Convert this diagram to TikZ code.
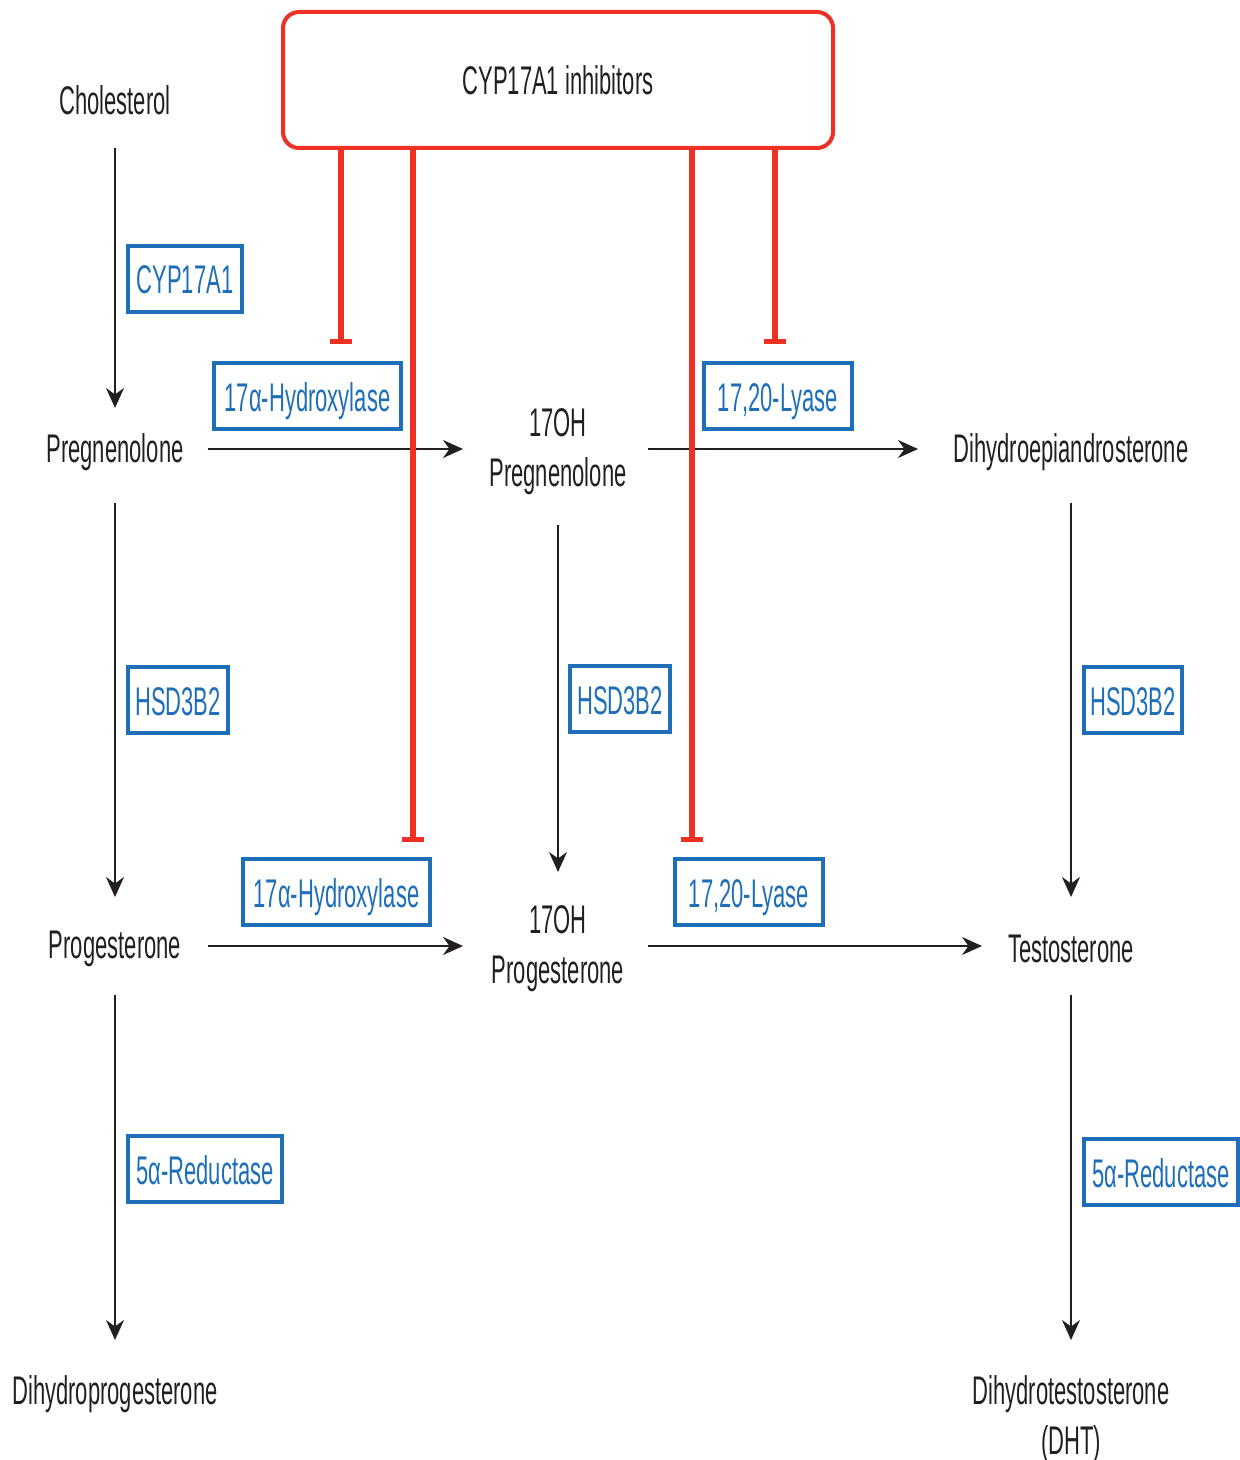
\documentclass[tikz,border=0pt]{standalone}
\usepackage{fontspec}
\setmainfont[FakeStretch=0.55]{Liberation Sans}
\usetikzlibrary{arrows.meta}
\definecolor{txt}{HTML}{231F20}
\definecolor{enzblue}{HTML}{1F6FB8}
\definecolor{inhred}{HTML}{EE3124}
\tikzset{
  metab/.style={text=txt, font=\fontsize{20}{25}\selectfont, align=center, inner sep=0pt, yshift=-1.5pt},
  enz/.style={draw=enzblue, line width=2pt, text=enzblue, font=\fontsize{20}{24}\selectfont, inner sep=0pt, minimum height=33pt, text depth=0pt, text height=15pt},
  flow/.style={draw=txt, line width=0.9pt, -{Stealth[length=10pt,width=9pt]}},
  inhib/.style={draw=inhred, line width=2.6pt, -{Bar[width=11pt,line width=2.6pt]}},
}
\begin{document}
\begin{tikzpicture}[x=0.5pt,y=-0.5pt]
\useasboundingbox (0,0) rectangle (1239,1460);
% metabolites
\node[metab] (chol) at (115,97) {Cholesterol};
\node[metab] (preg) at (115,449) {Pregnenolone};
\node[metab] (ohpreg) at (558,449) {17OH\\Pregnenolone};
\node[metab] (dhea) at (1071,449) {Dihydroepiandrosterone};
\node[metab] (prog) at (115,946) {Progesterone};
\node[metab] (ohprog) at (558,946) {17OH\\Progesterone};
\node[metab] (test) at (1071,946) {Testosterone};
\node[metab] (dhp) at (115,1391) {Dihydroprogesterone};
\node[metab] (dht) at (1071,1416) {Dihydrotestosterone\\(DHT)};
% anchors for arrows
\coordinate (cholS) at (115,148);
\coordinate (pregN) at (115,408);
\coordinate (pregE) at (208,449);
\coordinate (ohpregW) at (463,449);
\coordinate (ohpregE) at (648,449);
\coordinate (dheaW) at (918,449);
\coordinate (pregS) at (115,503);
\coordinate (progN) at (115,897);
\coordinate (ohpregS) at (558,525);
\coordinate (ohprogN) at (558,872);
\coordinate (dheaS) at (1071,503);
\coordinate (testN) at (1071,897);
\coordinate (progE) at (208,946);
\coordinate (ohprogW) at (463,946);
\coordinate (ohprogE) at (648,946);
\coordinate (testW) at (982,946);
\coordinate (progS) at (115,995);
\coordinate (dhpN) at (115,1340);
\coordinate (testS) at (1071,995);
\coordinate (dhtN) at (1071,1340);
% enzymes
\node[enz, minimum width=57pt] (cyp) at (185,279) {CYP17A1};
\node[enz, minimum width=93.5pt] (hyd1) at (307.5,396) {17α-Hydroxylase};
\node[enz, minimum width=74pt] (lya1) at (778,396) {17,20-Lyase};
\node[enz, minimum width=50pt] (hsd1) at (178,700) {HSD3B2};
\node[enz, minimum width=50pt] (hsd2) at (620,699) {HSD3B2};
\node[enz, minimum width=49pt] (hsd3) at (1133,700) {HSD3B2};
\node[enz, minimum width=93.5pt] (hyd2) at (336.5,892) {17α-Hydroxylase};
\node[enz, minimum width=74pt] (lya2) at (749,892) {17,20-Lyase};
\node[enz, minimum width=77pt] (red1) at (205,1169) {5α-Reductase};
\node[enz, minimum width=77pt] (red2) at (1161,1172) {5α-Reductase};
% inhibitor box
\node[draw=inhred, line width=2pt, rounded corners=8pt, minimum width=275pt, minimum height=68pt,
      text=txt, font=\fontsize{20}{24}\selectfont, inner sep=0pt] (inh) at (558,80) {CYP17A1 inhibitors};
% flow arrows
\draw[flow] (cholS) -- (pregN);
\draw[flow] (pregE) -- (ohpregW);
\draw[flow] (ohpregE) -- (dheaW);
\draw[flow] (pregS) -- (progN);
\draw[flow] (ohpregS) -- (ohprogN);
\draw[flow] (dheaS) -- (testN);
\draw[flow] (progE) -- (ohprogW);
\draw[flow] (ohprogE) -- (testW);
\draw[flow] (progS) -- (dhpN);
\draw[flow] (testS) -- (dhtN);
% inhibition lines
\coordinate (t1) at (341,344);
\coordinate (t2) at (413,842);
\coordinate (t3) at (692,842);
\coordinate (t4) at (775,344);
\draw[inhib] (inh.south -| t1) -- (t1);
\draw[inhib] (inh.south -| t2) -- (t2);
\draw[inhib] (inh.south -| t3) -- (t3);
\draw[inhib] (inh.south -| t4) -- (t4);
\end{tikzpicture}
\end{document}
